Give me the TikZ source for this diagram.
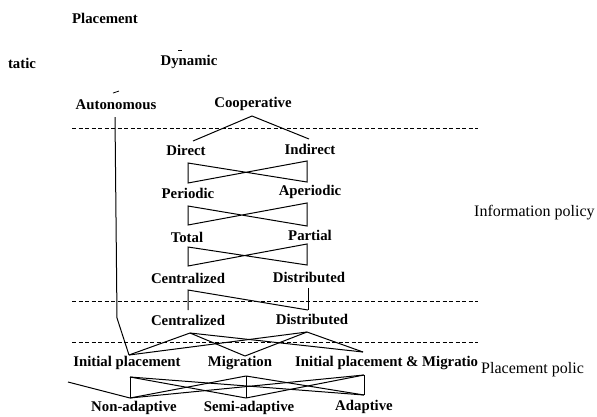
\documentclass[tikz,border=0pt]{standalone}
\usepackage{fontspec}
\setmainfont{Liberation Serif}
\begin{document}
\begin{tikzpicture}[x=1pt,y=-1pt,
  lbl/.style={inner sep=0pt,font=\fontsize{14.8}{18}\selectfont\bfseries},
  pol/.style={inner sep=0pt,anchor=west,font=\fontsize{16}{19}\selectfont},
  edge/.style={line width=1pt,line join=miter},
  sep/.style={line width=0.9pt,dash pattern=on 4pt off 2.5pt}]
\useasboundingbox (0,0) rectangle (597,416);

% labels
\node[lbl] (place) at (105,18) {Placement};
\node[lbl] (static) at (22,63) {tatic};
\node[lbl] (dyn) at (189,62) {Dynamic};
\node[lbl] (auto) at (116,105) {Autonomous};
\node[lbl] (coop) at (253,104) {Cooperative};
\node[lbl] (direct) at (186,150) {Direct};
\node[lbl] (indirect) at (310,149) {Indirect};
\node[lbl] (periodic) at (188,193) {Periodic};
\node[lbl] (aperiodic) at (310,192) {Aperiodic};
\node[lbl] (total) at (187,237) {Total};
\node[lbl] (partial) at (310,235) {Partial};
\node[lbl] (centA) at (188,278) {Centralized};
\node[lbl] (distA) at (309,277) {Distributed};
\node[lbl] (centB) at (188,320) {Centralized};
\node[lbl] (distB) at (312,319) {Distributed};
\node[lbl] (init) at (127,363) {Initial placement};
\node[lbl] (migr) at (240,363) {Migration};
\node[lbl,anchor=west] (ipm) at (295,363) {Initial placement \& Migratio};
\node[lbl] (nonad) at (134,408) {Non-adaptive};
\node[lbl] (semi) at (249,408) {Semi-adaptive};
\node[lbl] (adapt) at (364,407) {Adaptive};
\node[pol] (info) at (474,213) {Information policy};
\node[pol] (ppol) at (481,370) {Placement polic};

% connection points
\coordinate (dynMark) at (178,50);
\coordinate (dynMarkE) at (182,50);
\coordinate (autoMark) at (113,93);
\coordinate (autoMarkE) at (119,91);
\coordinate (autoB) at (115,117);
\coordinate (autoK) at (117,318);
\coordinate (coopB) at (252,116);
\coordinate (directT) at (193,141);
\coordinate (indirectT) at (309,139);
\coordinate (directB) at (188,163);
\coordinate (indirectB) at (307,161);
\coordinate (periodicT) at (188,183);
\coordinate (aperiodicT) at (307,182);
\coordinate (periodicB) at (188,206);
\coordinate (aperiodicB) at (307,203);
\coordinate (totalT) at (188,225);
\coordinate (partialT) at (307,226);
\coordinate (totalB) at (188,247);
\coordinate (partialB) at (307,244);
\coordinate (centAT) at (188,266);
\coordinate (distAT) at (307,265);
\coordinate (centAB) at (188,290);
\coordinate (distAB) at (308,288);
\coordinate (centBT) at (188,310);
\coordinate (distBT) at (308,310);
\coordinate (centBB) at (190,333);
\coordinate (distBB) at (307,332);
\coordinate (initT) at (129,355);
\coordinate (migrT) at (245,356);
\coordinate (ipmT) at (363,352);
\coordinate (initB) at (130,377);
\coordinate (migrB) at (246,376);
\coordinate (ipmB) at (364,375);
\coordinate (nonadT) at (130,398);
\coordinate (semiT) at (246,398);
\coordinate (adaptT) at (364,395);
\coordinate (staticEnd) at (68,382);

% separators
\coordinate (s1a) at (72,128); \coordinate (s1b) at (478,128);
\coordinate (s2a) at (72,301); \coordinate (s2b) at (478,301);
\coordinate (s3a) at (72,342); \coordinate (s3b) at (478,342);
\draw[sep] (s1a) -- (s1b);
\draw[sep] (s2a) -- (s2b);
\draw[sep] (s3a) -- (s3b);

% small marks
\draw[line width=0.6pt] (dynMark) -- (dynMarkE);
\draw[line width=0.8pt] (autoMark) -- (autoMarkE);

% tree
\draw[edge] (autoB) -- (autoK) -- (initT);
\draw[edge] (directT) -- (coopB) -- (indirectT);
\draw[edge] (directB) -- (periodicT) -- (indirectB) -- (aperiodicT) -- cycle;
\draw[edge] (periodicB) -- (totalT) -- (aperiodicB) -- (partialT) -- cycle;
\draw[edge] (totalB) -- (centAT) -- (partialB) -- (distAT) -- cycle;
\draw[edge] (centBT) -- (centAB) -- (distBT);
\draw[edge] (distAB) -- (distBT);
\foreach \a in {centBB,distBB}
  \foreach \b in {initT,migrT,ipmT}
    \draw[edge] (\a) -- (\b);
\foreach \a in {initB,migrB,ipmB}
  \foreach \b in {nonadT,semiT,adaptT}
    \draw[edge] (\a) -- (\b);
\draw[edge] (staticEnd) -- (nonadT);
\end{tikzpicture}
\end{document}
